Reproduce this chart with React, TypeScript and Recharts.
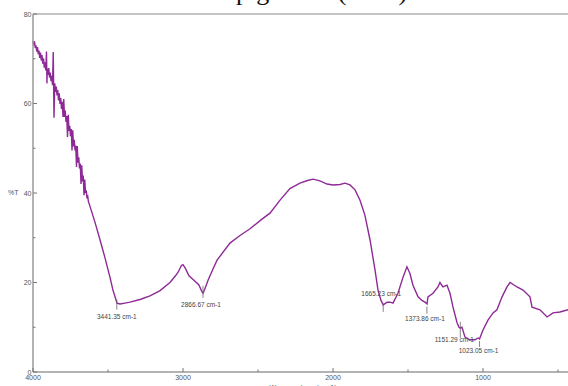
import React from 'react';
import { LineChart, Line, XAxis, YAxis, ReferenceLine, ReferenceDot } from 'recharts';

// Noisy high-wavenumber region (cm-1) and its transmittance (%T)
const noisyWn = [
  4000, 3995, 3990, 3985, 3980, 3975, 3970, 3965, 3960, 3955,
  3950, 3945, 3940, 3935, 3930, 3925, 3920, 3915, 3910, 3907,
  3905, 3900, 3895, 3890, 3885, 3880, 3875, 3870, 3865, 3860,
  3855, 3850, 3845, 3840, 3835, 3830, 3825, 3820, 3815, 3810,
  3805, 3800, 3795, 3790, 3785, 3780, 3775, 3770, 3765, 3760,
  3755, 3750, 3745, 3740, 3735, 3730, 3725, 3720, 3715, 3710,
  3705, 3700, 3695, 3690, 3685, 3680, 3675, 3670, 3665, 3660,
  3655, 3650, 3645, 3640, 3635, 3630, 3625, 3620,
];
const noisyT = [
  74.0, 73.0, 73.9, 72.4, 73.0, 71.6, 72.6, 71.0, 71.8, 70.2,
  71.4, 69.6, 70.8, 68.9, 70.1, 68.0, 69.2, 67.4, 71.6, 64.5,
  67.8, 66.4, 67.9, 65.8, 66.9, 65.0, 66.2, 64.1, 71.5, 56.8,
  64.5, 62.6, 63.8, 61.8, 63.0, 60.7, 62.3, 59.9, 61.2, 58.8,
  60.4, 57.0, 61.0, 57.0, 58.4, 55.9, 57.2, 52.5, 57.5, 53.9,
  55.0, 52.7, 54.3, 49.5, 54.0, 50.4, 51.9, 49.5, 50.6, 45.8,
  50.5, 46.8, 48.0, 45.5, 46.6, 42.0, 46.2, 42.6, 43.9, 39.5,
  43.0, 40.0, 40.6, 38.8, 39.2, 37.9, 37.6, 37.0,
];

// Remaining spectrum
const smoothWn = [
  3587, 3553, 3520, 3487, 3467, 3453, 3440, 3420, 3387, 3353, 3287, 3220, 3153, 3087,
  3050, 3033, 3010, 3000, 2985, 2960, 2920, 2895, 2873, 2866, 2855, 2833, 2800, 2773, 2687, 2620,
  2553, 2480, 2420, 2353, 2287, 2220, 2170, 2133, 2087, 2040, 2000, 1953, 1920, 1887, 1853, 1820,
  1787, 1753, 1720, 1700, 1680, 1665, 1640, 1620, 1600, 1567, 1533, 1507, 1487, 1467, 1433, 1407,
  1387, 1373, 1367, 1333, 1300, 1287, 1267, 1240, 1220, 1200, 1173, 1160, 1151, 1140, 1120, 1087,
  1053, 1033, 1023, 1000, 967, 933, 907, 873, 840, 820, 773, 733, 687, 673, 620, 573,
  533, 487, 433, 400,
];
const smoothT = [
  33.5, 29.5, 25.5, 21.2, 18.3, 16.8, 15.4, 15.2, 15.4, 15.6, 16.2, 17.0, 18.2, 20.0,
  21.5, 22.3, 23.8, 24.0, 23.2, 21.5, 20.3, 19.5, 17.9, 17.6, 18.5, 20.5, 23.0, 25.0, 28.8, 30.5,
  32.0, 34.0, 35.5, 38.4, 41.0, 42.2, 42.8, 43.1, 42.7, 42.0, 41.8, 41.9, 42.2, 41.8, 40.7, 38.4,
  35.0, 29.5, 22.8, 18.3, 16.0, 15.0, 15.6, 15.6, 15.4, 17.6, 21.2, 23.5, 22.0, 19.4, 16.8, 16.0,
  15.6, 15.2, 16.8, 17.6, 19.0, 20.0, 19.0, 19.4, 17.6, 14.5, 11.0, 10.0, 9.8, 10.0, 7.8, 7.2,
  7.2, 7.6, 7.4, 9.4, 11.6, 13.2, 13.9, 16.8, 19.0, 20.0, 19.0, 18.3, 16.8, 14.5, 13.9, 12.3,
  13.2, 13.4, 13.9, 14.2,
];

const peakWn = [3441.35, 2866.67, 1665.23, 1373.86, 1151.29, 1023.05];
const peakT = [15.1, 17.7, 15.0, 15.3, 9.9, 7.4];
const peakLabels = ['3441.35 cm-1', '2866.67 cm-1', '1665.23 cm-1', '1373.86 cm-1', '1151.29 cm-1', '1023.05 cm-1'];

const xTicks = [4000, 3500, 3000, 2500, 2000, 1500, 1000, 500];
const yTicks = [0, 10, 20, 30, 40, 50, 60, 70, 80];

// label placement styles (pixel offsets relative to the marked point)
const peakStyle: Record<string, { t1: number; t2: number; dx: number; dy: number }> = {
  '3441.35 cm-1': { t1: -5, t2: 5, dx: 0, dy: 15 },
  '2866.67 cm-1': { t1: -7, t2: 5, dx: -2, dy: 14 },
  '1665.23 cm-1': { t1: 0, t2: 7, dx: -2, dy: -9 },
  '1373.86 cm-1': { t1: 3, t2: 10, dx: -2, dy: 17 },
  '1151.29 cm-1': { t1: -6, t2: 10, dx: -6, dy: 14 },
  '1023.05 cm-1': { t1: 2, t2: 8, dx: -1, dy: 14 },
};

const data = [
  ...noisyWn.map((wn, i) => ({ wn, t: noisyT[i] })),
  ...smoothWn.map((wn, i) => ({ wn, t: smoothT[i] })),
];

const AXIS = '#9a9a9a';
const TXT = '#555';
const FONT = '"Liberation Sans", Arial, sans-serif';

const XTick = (props: any) => {
  const { x, y, payload } = props;
  const major = payload.value % 1000 === 0;
  return (
    <g>
      <line x1={x} x2={x} y1={y} y2={y - (major ? 4 : 2.5)} stroke="#777" strokeWidth={1} />
      {major && (
        <text x={x} y={y + 8} textAnchor="middle" fontSize={7} fill={TXT} fontFamily={FONT}>
          {payload.value}
        </text>
      )}
    </g>
  );
};

const YTick = (props: any) => {
  const { x, y, payload } = props;
  const major = payload.value % 20 === 0;
  return (
    <g>
      <line x1={x} x2={x + (major ? 4 : 2.5)} y1={y} y2={y} stroke="#777" strokeWidth={1} />
      {major && (
        <text x={x - 1.5} y={y + 2.5} textAnchor="end" fontSize={7} fill={TXT} fontFamily={FONT}>
          {payload.value}
        </text>
      )}
    </g>
  );
};

const makePeakShape = (label: string) => (p: any) => {
  const s = peakStyle[label];
  const { cx, cy } = p;
  return (
    <g>
      <line x1={cx} x2={cx} y1={cy + s.t1} y2={cy + s.t2} stroke="#666" strokeWidth={0.8} />
      <text x={cx + s.dx} y={cy + s.dy} textAnchor="middle" fontSize={6.5} fill="#444" fontFamily={FONT}>
        {label}
      </text>
    </g>
  );
};

export default function App() {
  return (
    <div
      style={{
        position: 'fixed',
        left: 0,
        top: 0,
        width: 568,
        height: 386,
        overflow: 'hidden',
        background: '#fff',
      }}
    >
      <svg width={568} height={20} style={{ position: 'absolute', left: 0, top: 0 }}>
        <text x={236} y={0} fontSize={26} fontFamily='"Liberation Serif", serif' fill="#111">
          pigments (2019)
        </text>
      </svg>
      <div style={{ position: 'absolute', left: 0, top: 0 }}>
        <LineChart width={600} height={386} data={data} margin={{ top: 14, right: 27, bottom: 0, left: 0 }}>
          <XAxis
            dataKey="wn"
            type="number"
            domain={[400, 4000]}
            reversed
            ticks={xTicks}
            interval={0}
            tick={<XTick />}
            tickLine={false}
            tickSize={0}
            tickMargin={0}
            height={14}
            stroke={AXIS}
            axisLine={{ stroke: AXIS, strokeWidth: 1.5 }}
            label={{ value: 'Wavenumbers (cm-1)', position: 'insideBottom', offset: -4, fontSize: 7, fill: TXT, fontFamily: FONT }}
          />
          <YAxis
            type="number"
            domain={[0, 80]}
            ticks={yTicks}
            interval={0}
            tick={<YTick />}
            tickLine={false}
            tickSize={0}
            tickMargin={0}
            width={33}
            axisLine={{ stroke: AXIS, strokeWidth: 1.5 }}
            label={{ value: '%T', position: 'insideLeft', offset: 8, angle: 0, fontSize: 7, fill: TXT, fontFamily: FONT }}
          />
          <ReferenceLine y={80} stroke="#b0b0b0" strokeWidth={1.5} />
          <Line
            type="linear"
            dataKey="t"
            stroke="#8e2a96"
            strokeWidth={1.4}
            dot={false}
            isAnimationActive={false}
          />
          {peakWn.map((wn, i) => (
            <ReferenceDot
              key={peakLabels[i]}
              x={wn}
              y={peakT[i]}
              r={0}
              shape={makePeakShape(peakLabels[i])}
            />
          ))}
        </LineChart>
      </div>
    </div>
  );
}
